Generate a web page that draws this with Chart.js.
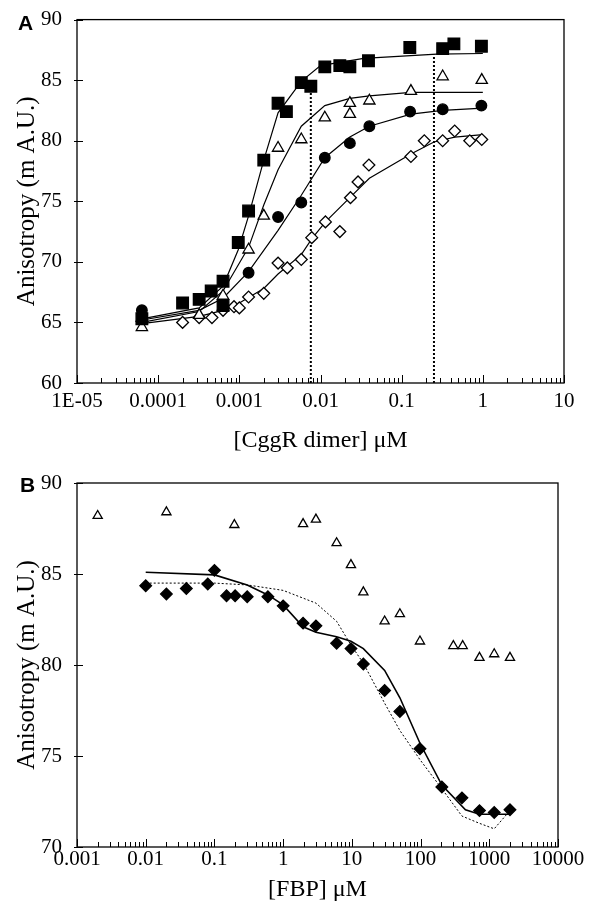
<!DOCTYPE html>
<html>
<head>
<meta charset="utf-8">
<script src="https://cdn.jsdelivr.net/npm/chart.js@4"></script>
<style>
  html, body { margin: 0; padding: 0; background: #fff; }
  body { width: 594px; height: 908px; position: relative; overflow: hidden; }
  .panel { position: absolute; left: 0; width: 594px; }
  .letter { position: absolute; font: bold 21px "Liberation Sans", Arial, sans-serif; color: #000; }
</style>
</head>
<body>
<div class="panel" style="top:0;height:460px"><canvas id="chartA"></canvas></div>
<div class="panel" style="top:460px;height:448px"><canvas id="chartB"></canvas></div>
<div class="letter" style="left:18px;top:11px">A</div>
<div class="letter" style="left:20px;top:473px">B</div>
<script>
// ---- Panel A: anisotropy vs [CggR dimer] ----
const xLabelsA = ['1E-05', '0.0001', '0.001', '0.01', '0.1', '1', '10'];
const yTicksA = [60, 65, 70, 75, 80, 85, 90];

// filled squares
const sqX = [0.000063, 0.0002, 0.00032, 0.00045, 0.00063, 0.00063, 0.00097, 0.0013, 0.002, 0.003, 0.0038, 0.0058, 0.0076, 0.0113, 0.0173, 0.023, 0.039, 0.126, 0.32, 0.44, 0.96];
const sqY = [65.3, 66.6, 66.9, 67.6, 66.4, 68.4, 71.6, 74.2, 78.4, 83.1, 82.4, 84.8, 84.5, 86.1, 86.2, 86.1, 86.6, 87.7, 87.6, 88.0, 87.8];
const sqFitX = [0.000063, 0.00032, 0.00063, 0.00097, 0.0013, 0.002, 0.003, 0.0058, 0.01, 0.034, 0.27, 1];
const sqFitY = [65.3, 66.2, 68.0, 71.0, 73.8, 78.4, 82.3, 84.9, 86.2, 86.8, 87.15, 87.2];

// open triangles
const triX = [0.000063, 0.00032, 0.00063, 0.0013, 0.002, 0.003, 0.0058, 0.0113, 0.023, 0.023, 0.04, 0.13, 0.32, 0.97];
const triY = [64.6, 65.6, 67.2, 71.0, 73.8, 79.4, 80.1, 81.9, 83.1, 82.2, 83.3, 84.1, 85.3, 85.0];
const triFitX = [0.000063, 0.00032, 0.00063, 0.0013, 0.002, 0.003, 0.0058, 0.0113, 0.023, 0.04, 0.13, 0.32, 1];
const triFitY = [65.0, 65.9, 67.6, 71.2, 74.7, 77.6, 81.2, 82.9, 83.5, 83.7, 84.0, 84.0, 84.0];

// filled circles
const cirX = [0.000063, 0.0013, 0.003, 0.0058, 0.0113, 0.023, 0.04, 0.127, 0.32, 0.96];
const cirY = [66.0, 69.1, 73.7, 74.9, 78.6, 79.8, 81.2, 82.4, 82.6, 82.9];
const cirFitX = [0.000063, 0.00032, 0.00063, 0.0013, 0.003, 0.0058, 0.0113, 0.023, 0.04, 0.13, 0.32, 1];
const cirFitY = [65.2, 66.0, 67.0, 69.2, 72.6, 75.5, 78.6, 80.3, 81.2, 82.2, 82.5, 82.7];

// open diamonds
const diaX = [0.000063, 0.0002, 0.00032, 0.00046, 0.00063, 0.00086, 0.001, 0.0013, 0.002, 0.003, 0.0039, 0.0058, 0.0078, 0.0115, 0.0173, 0.0234, 0.029, 0.0395, 0.13, 0.19, 0.32, 0.45, 0.69, 0.97];
const diaY = [65.1, 65.0, 65.4, 65.4, 66.0, 66.3, 66.2, 67.1, 67.4, 69.9, 69.5, 70.2, 72.0, 73.3, 72.5, 75.3, 76.6, 78.0, 78.7, 80.0, 80.0, 80.8, 80.0, 80.1];
const diaFitX = [0.000063, 0.00032, 0.00063, 0.001, 0.002, 0.003, 0.0058, 0.0078, 0.0115, 0.023, 0.04, 0.13, 0.25, 0.45, 1];
const diaFitY = [64.9, 65.5, 66.0, 66.6, 67.8, 69.0, 70.6, 71.9, 73.3, 75.3, 76.9, 78.9, 79.9, 80.3, 80.5];

// dotted markers of half saturation
const markX = [0.0076, 0.25];
const markTop = [84.6, 87.1];

// ---- Panel B: anisotropy vs [FBP] ----
const xLabelsB = ['0.001', '0.01', '0.1', '1', '10', '100', '1000', '10000'];
const yTicksB = [70, 75, 80, 85, 90];

const triBX = [0.002, 0.02, 0.195, 1.95, 3.0, 6.0, 9.7, 14.7, 30, 50, 98, 300, 410, 720, 1180, 2000];
const triBY = [88.2, 88.4, 87.7, 87.75, 88.0, 86.7, 85.5, 84.0, 82.4, 82.8, 81.3, 81.05, 81.05, 80.4, 80.6, 80.4];

const diaBX = [0.01, 0.02, 0.039, 0.08, 0.1, 0.15, 0.2, 0.3, 0.6, 1.0, 1.95, 3.0, 6.0, 9.7, 14.7, 30, 50, 98, 204, 400, 720, 1180, 2000];
const diaBY = [84.35, 83.9, 84.2, 84.45, 85.2, 83.8, 83.8, 83.75, 83.75, 83.25, 82.3, 82.15, 81.2, 80.9, 80.05, 78.6, 77.45, 75.4, 73.3, 72.7, 72.0, 71.9, 72.05];

const fitBX = [0.01, 0.1, 0.3, 0.6, 1.0, 1.95, 3.0, 6.0, 9.7, 14.7, 30, 50, 98, 204, 450, 720, 2000];
const fitBY = [85.1, 84.95, 84.4, 83.85, 83.3, 82.1, 81.8, 81.55, 81.3, 80.9, 79.7, 78.2, 75.7, 73.4, 72.05, 71.8, 71.8];

const dashBX = [0.01, 0.1, 0.3, 1.0, 3.0, 6.0, 9.7, 14.7, 30, 50, 98, 204, 400, 720, 1180, 2000];
const dashBY = [84.5, 84.5, 84.4, 84.1, 83.4, 82.4, 81.1, 80.1, 77.9, 76.4, 74.8, 73.2, 71.7, 71.3, 71.0, 72.0];

// ---- helpers ----
const serif = '"Liberation Serif", "Times New Roman", serif';

function pts(xs, ys) {
    return xs.map((x, i) => ({ x: x, y: ys[i] }));
}

function markers(xs, ys, style, radius, fill) {
    return {
        data: pts(xs, ys),
        pointStyle: style,
        pointRadius: radius,
        pointBackgroundColor: fill,
        pointBorderColor: '#000',
        pointBorderWidth: 1.3,
        showLine: false,
        clip: false,
        order: 0
    };
}

function curve(xs, ys, dash, width) {
    return {
        data: pts(xs, ys),
        showLine: true,
        pointRadius: 0,
        borderColor: '#000',
        borderWidth: width || 1.2,
        borderDash: dash || [],
        order: 1
    };
}

function isDecade(v) {
    const l = Math.log10(v);
    return Math.abs(l - Math.round(l)) < 1e-6;
}

// frame box plus inward tick marks, like the original
const frameTicks = {
    id: 'frameTicks',
    afterDraw(chart) {
        const { ctx, chartArea: a, scales: { x, y } } = chart;
        ctx.save();
        ctx.strokeStyle = '#000';
        ctx.lineWidth = 1.3;
        ctx.strokeRect(a.left, a.top, a.right - a.left, a.bottom - a.top);
        ctx.lineWidth = 1;
        ctx.beginPath();
        x.ticks.forEach(t => {
            const px = Math.round(x.getPixelForValue(t.value)) + 0.5;
            const len = isDecade(t.value) ? 8 : 5;
            ctx.moveTo(px, a.bottom);
            ctx.lineTo(px, a.bottom - len);
        });
        y.ticks.forEach(t => {
            const py = Math.round(y.getPixelForValue(t.value)) + 0.5;
            ctx.moveTo(a.left - 3, py);
            ctx.lineTo(a.left + 6, py);
        });
        ctx.stroke();
        ctx.restore();
    }
};

function makeChart(canvasId, cfg) {
    const minExp = Math.round(Math.log10(cfg.xMin));
    return new Chart(document.getElementById(canvasId), {
        type: 'scatter',
        data: { datasets: cfg.datasets },
        options: {
            responsive: true,
            maintainAspectRatio: false,
            animation: false,
            layout: { padding: cfg.padding },
            plugins: { legend: { display: false }, tooltip: { enabled: false } },
            scales: {
                x: {
                    type: 'logarithmic',
                    min: cfg.xMin,
                    max: cfg.xMax,
                    afterBuildTicks: scale => {
                        const list = [];
                        for (let e = minExp; e <= Math.round(Math.log10(cfg.xMax)); e++) {
                            for (let m = 1; m <= 9; m++) {
                                const v = m * Math.pow(10, e);
                                if (v <= cfg.xMax * 1.000001) list.push({ value: v });
                            }
                        }
                        scale.ticks = list;
                    },
                    afterFit: scale => { scale.height = cfg.xAxisHeight; },
                    grid: { display: false },
                    border: { display: false },
                    ticks: {
                        autoSkip: false,
                        maxRotation: 0,
                        padding: cfg.xTickPad,
                        color: '#000',
                        font: { family: serif, size: 21 },
                        callback: v => isDecade(v) ? cfg.xLabels[Math.round(Math.log10(v)) - minExp] : ''
                    },
                    title: {
                        display: true,
                        text: cfg.xTitle,
                        color: '#000',
                        font: { family: serif, size: 24 },
                        padding: { top: 0, bottom: cfg.xTitlePad }
                    }
                },
                y: {
                    min: cfg.yTicks[0],
                    max: cfg.yTicks[cfg.yTicks.length - 1],
                    afterBuildTicks: scale => { scale.ticks = cfg.yTicks.map(v => ({ value: v })); },
                    afterFit: scale => { scale.width = 77; },
                    grid: { display: false },
                    border: { display: false },
                    ticks: {
                        padding: 7,
                        color: '#000',
                        font: { family: serif, size: 21 }
                    },
                    title: {
                        display: true,
                        text: 'Anisotropy (m A.U.)',
                        color: '#000',
                        font: { family: serif, size: 25 },
                        padding: { top: 12, bottom: 0 }
                    }
                }
            }
        },
        plugins: [frameTicks]
    });
}

// Panel A
makeChart('chartA', {
    xMin: 1e-5, xMax: 10,
    xLabels: xLabelsA, yTicks: yTicksA,
    xTitle: '[CggR dimer] μM',
    padding: { left: 0, right: 30, top: 17, bottom: 0 },
    xAxisHeight: 77, xTickPad: -2, xTitlePad: 5,
    datasets: [
        markers(sqX, sqY, 'rect', 8.2, '#000'),
        markers(triX, triY, 'triangle', 6.5, '#fff'),
        markers(cirX, cirY, 'circle', 5.3, '#000'),
        markers(diaX, diaY, 'rectRot', 5.9, '#fff'),
        curve(sqFitX, sqFitY),
        curve(triFitX, triFitY),
        curve(cirFitX, cirFitY),
        curve(diaFitX, diaFitY),
        curve([markX[0], markX[0]], [yTicksA[0], markTop[0]], [2, 2], 2),
        curve([markX[1], markX[1]], [yTicksA[0], markTop[1]], [2, 2], 2)
    ]
});

// Panel B
makeChart('chartB', {
    xMin: 0.001, xMax: 10000,
    xLabels: xLabelsB, yTicks: yTicksB,
    xTitle: '[FBP] μM',
    padding: { left: 0, right: 36, top: 23, bottom: 0 },
    xAxisHeight: 61, xTickPad: -8, xTitlePad: 4,
    datasets: [
        markers(triBX, triBY, 'triangle', 5.3, '#fff'),
        markers(diaBX, diaBY, 'rectRot', 5.8, '#000'),
        curve(fitBX, fitBY, [], 1.6),
        curve(dashBX, dashBY, [2, 2], 1)
    ]
});
</script>
</body>
</html>
